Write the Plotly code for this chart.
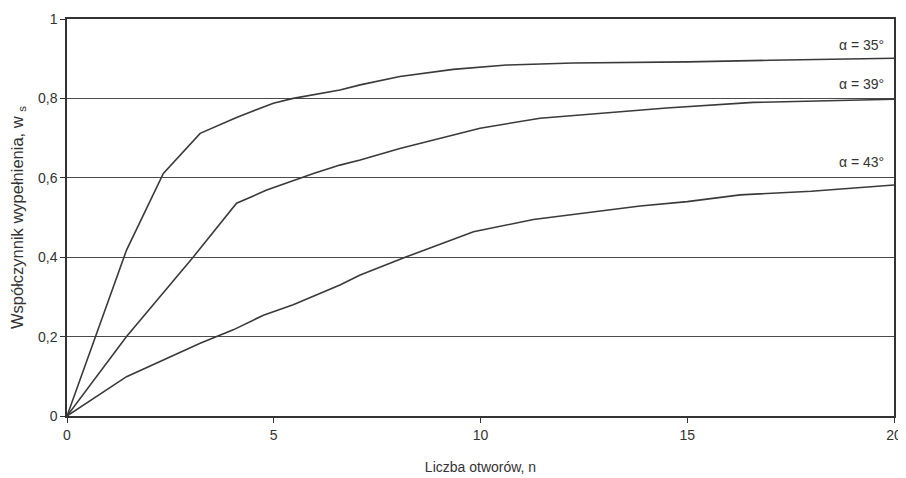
import plotly.graph_objects as go

# Data
n_35 = [0, 1.44, 2.33, 3.22, 4.10, 4.99, 5.47, 6.60, 7.09, 8.05, 9.34, 10.63, 12.24, 13.86, 15.0, 17.0, 20.0]
w_35 = [0, 0.418, 0.611, 0.712, 0.752, 0.788, 0.800, 0.821, 0.834, 0.855, 0.873, 0.884, 0.889, 0.890, 0.892, 0.896, 0.901]

n_39 = [0, 1.44, 3.05, 4.10, 4.83, 5.96, 6.60, 7.09, 8.05, 9.99, 11.44, 13.37, 14.5, 16.6, 18.0, 20.0]
w_39 = [0, 0.200, 0.400, 0.536, 0.569, 0.611, 0.632, 0.645, 0.674, 0.725, 0.750, 0.766, 0.776, 0.790, 0.794, 0.798]

n_43 = [0, 1.44, 3.22, 4.02, 4.75, 5.47, 6.60, 7.09, 8.21, 9.83, 11.28, 12.73, 13.86, 15.0, 16.28, 18.0, 20.0]
w_43 = [0, 0.099, 0.183, 0.217, 0.254, 0.280, 0.330, 0.355, 0.401, 0.464, 0.495, 0.515, 0.529, 0.540, 0.557, 0.566, 0.582]

series_names = ["α = 35°", "α = 39°", "α = 43°"]
label_y = [0.934, 0.837, 0.64]

y_ticks = [0, 0.2, 0.4, 0.6, 0.8, 1.0]
y_tick_text = ["0", "0,2", "0,4", "0,6", "0,8", "1"]
x_ticks = [0, 5, 10, 15, 20]

FONT = "Liberation Sans, Arial, sans-serif"
LINE_COLOR = "#3a3a3a"

fig = go.Figure()
for xs, ys, name in zip([n_35, n_39, n_43], [w_35, w_39, w_43], series_names):
    fig.add_trace(go.Scatter(x=xs, y=ys, mode="lines", name=name,
                             line=dict(color=LINE_COLOR, width=1.6),
                             showlegend=False, hoverinfo="skip"))

for name, ly in zip(series_names, label_y):
    fig.add_annotation(x=19.8, y=ly, text=name, showarrow=False,
                       xanchor="right", yanchor="middle",
                       font=dict(family=FONT, size=14, color="#333"))

# page body has an 8px margin, so the figure is sized to fill the rest of the window
fig.update_layout(
    width=898, height=470,
    margin=dict(l=59, r=12, t=11, b=62),
    paper_bgcolor="white", plot_bgcolor="white",
    font=dict(family=FONT, size=13, color="#333"),
)
fig.update_xaxes(
    range=[0, 20], tickvals=x_ticks, ticktext=[str(v) for v in x_ticks],
    showgrid=False, zeroline=False, automargin=False,
    showline=True, linecolor="#333", linewidth=1.5, mirror=True,
    ticks="outside", ticklen=5, tickcolor="#333",
    tickfont=dict(family=FONT, size=14, color="#333"),
    title=dict(text="Liczba otworów, n", font=dict(family=FONT, size=14, color="#333"), standoff=21),
)
fig.update_yaxes(
    range=[0, 1], tickvals=y_ticks, ticktext=y_tick_text,
    showgrid=True, gridcolor="#4a4a4a", gridwidth=1.2, zeroline=False, automargin=False,
    showline=True, linecolor="#333", linewidth=1.5, mirror=True,
    ticks="outside", ticklen=5, tickcolor="#333",
    tickfont=dict(family=FONT, size=14, color="#333"),
    title=dict(text="Współczynnik wypełnienia, w <sub>s</sub>", font=dict(family=FONT, size=16.5, color="#333"), standoff=12),
)

fig.write_html("out.html")
